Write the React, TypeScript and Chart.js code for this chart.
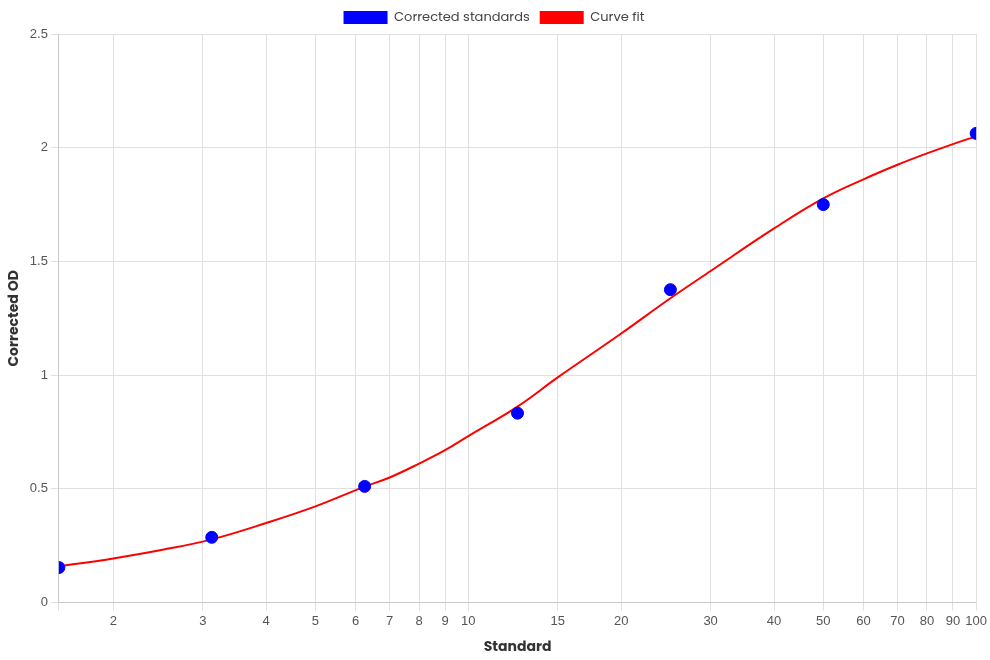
import React, { useEffect, useRef } from "react";
import { Chart, registerables } from "chart.js";

Chart.register(...registerables);

const standardX = [1.5625, 3.125, 6.25, 12.5, 25, 50, 100];
const standardOD = [0.154, 0.287, 0.511, 0.833, 1.376, 1.75, 2.063];

const curveX = [1.5625, 2, 2.5, 3.125, 4, 5, 6.25, 7, 8, 9, 10, 12.5, 15, 20, 25, 30, 40, 50, 60, 70, 80, 90, 100];
const curveOD = [0.159, 0.194, 0.232, 0.278, 0.35, 0.423, 0.51, 0.55, 0.611, 0.67, 0.732, 0.862, 0.99, 1.183, 1.338, 1.458, 1.645, 1.777, 1.861, 1.925, 1.975, 2.016, 2.05];

const xTickValues = [1.5625, 2, 3, 4, 5, 6, 7, 8, 9, 10, 15, 20, 30, 40, 50, 60, 70, 80, 90, 100];
const xTickLabels = ["", "2", "3", "4", "5", "6", "7", "8", "9", "10", "15", "20", "30", "40", "50", "60", "70", "80", "90", "100"];
const yTickValues = [0, 0.5, 1, 1.5, 2, 2.5];
const yTickLabels = ["0", "0.5", "1", "1.5", "2", "2.5"];

const TITLE_FONT = "Poppins, Inter, 'Noto Sans', sans-serif";

export default function App() {
  const ref = useRef<HTMLCanvasElement | null>(null);
  useEffect(() => {
    if (!ref.current) return;
    const chart = new Chart(ref.current, {
      type: "scatter",
      data: {
        datasets: [
          {
            label: "Corrected standards",
            data: standardX.map((x, i) => ({ x, y: standardOD[i] })),
            backgroundColor: "#0000ff",
            borderColor: "#0000ff",
            pointRadius: 6,
            pointHoverRadius: 6,
            showLine: false,
            order: 0,
          },
          {
            label: "Curve fit",
            data: curveX.map((x, i) => ({ x, y: curveOD[i] })),
            backgroundColor: "#ff0000",
            borderColor: "#ff0000",
            borderWidth: 2,
            pointRadius: 0,
            showLine: true,
            tension: 0.4,
            order: 1,
          } as any,
        ],
      },
      options: {
        animation: false,
        responsive: true,
        maintainAspectRatio: false,
        layout: { padding: { left: 2, right: 4, top: 1, bottom: 0 } },
        plugins: {
          legend: {
            position: "top",
            labels: {
              boxWidth: 44,
              boxHeight: 13,
              color: "#444",
              font: { family: TITLE_FONT, size: 13 },
              generateLabels: (c: any) =>
                c.data.datasets.map((d: any, i: number) => ({
                  text: d.label,
                  fillStyle: d.backgroundColor,
                  strokeStyle: d.backgroundColor,
                  lineWidth: 0,
                  hidden: false,
                  datasetIndex: i,
                  fontColor: "#444",
                })),
            },
          },
          tooltip: { enabled: false },
        },
        scales: {
          x: {
            type: "logarithmic",
            min: 1.5625,
            max: 100,
            title: {
              display: true,
              text: "Standard",
              color: "#333",
              padding: { top: 7, bottom: 4 },
              font: { family: TITLE_FONT, size: 14, weight: "bold" },
            },
            afterBuildTicks: (axis: any) => {
              axis.ticks = xTickValues.map((v) => ({ value: v }));
            },
            ticks: {
              autoSkip: false,
              maxRotation: 0,
              color: "#555",
              font: { size: 13 },
              callback: (v: any) => {
                const i = xTickValues.indexOf(Number(v));
                return i >= 0 ? xTickLabels[i] : "";
              },
            },
            grid: { color: "#e0e0e0" },
          },
          y: {
            min: 0,
            max: 2.5,
            title: {
              display: true,
              text: "Corrected OD",
              color: "#333",
              font: { family: TITLE_FONT, size: 14, weight: "bold" },
            },
            afterBuildTicks: (axis: any) => {
              axis.ticks = yTickValues.map((v) => ({ value: v }));
            },
            ticks: {
              color: "#555",
              font: { size: 13 },
              callback: (v: any) => {
                const i = yTickValues.indexOf(Number(v));
                return i >= 0 ? yTickLabels[i] : "";
              },
            },
            grid: { color: "#e0e0e0" },
          },
        },
      },
    });
    return () => chart.destroy();
  }, []);
  return (
    <div style={{ position: "fixed", left: 0, top: 0, width: 990, height: 660 }}>
      <canvas ref={ref} />
    </div>
  );
}
